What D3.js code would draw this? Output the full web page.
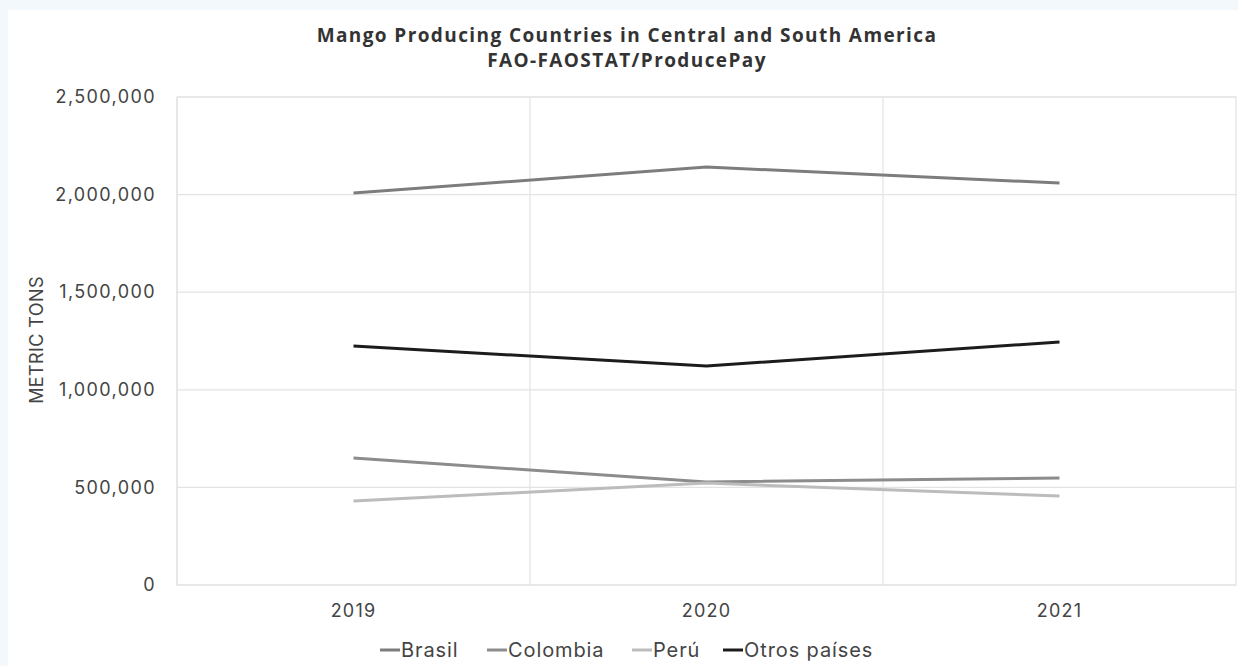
<!DOCTYPE html>
<html>
<head>
<meta charset="utf-8">
<script src="https://cdn.jsdelivr.net/npm/d3@7"></script>
<style>
  body { margin: 0; background: #f3f8fc; }
  svg { display: block; }
</style>
</head>
<body>
<svg id="chart" width="1238" height="666"></svg>
<script>
var years = ["2019", "2020", "2021"];
var brasil = [2008000, 2141000, 2059000];
var colombia = [650000, 528000, 548000];
var peru = [430000, 522000, 456000];
var otros = [1224000, 1122000, 1245000];
var seriesNames = ["Brasil", "Colombia", "Perú", "Otros países"];
var seriesColors = ["#7d7d7d", "#8c8c8c", "#bcbcbc", "#1c1c1c"];
var yTicks = [0, 500000, 1000000, 1500000, 2000000, 2500000];

var allSeries = [brasil, colombia, peru, otros];

var svg = d3.select("#chart");

// white card
svg.append("rect")
    .attr("x", 8).attr("y", 10)
    .attr("width", 1230).attr("height", 656)
    .attr("fill", "#ffffff");

var plotLeft = 177, plotRight = 1236, plotTop = 97, plotBottom = 585;

var x = d3.scaleBand()
    .domain(years)
    .range([plotLeft, plotRight]);

var y = d3.scaleLinear()
    .domain([0, 2500000])
    .range([plotBottom, plotTop]);

// gridlines
svg.append("g")
    .selectAll("line")
    .data(yTicks)
    .enter()
    .append("line")
    .attr("x1", plotLeft).attr("x2", plotRight)
    .attr("y1", function (d) { return y(d); })
    .attr("y2", function (d) { return y(d); })
    .attr("stroke", "#e3e3e3")
    .attr("stroke-width", 1.2);

svg.append("g")
    .selectAll("line")
    .data(years)
    .enter()
    .append("line")
    .attr("x1", function (d) { return x(d); })
    .attr("x2", function (d) { return x(d); })
    .attr("y1", plotTop).attr("y2", plotBottom)
    .attr("stroke", "#e3e3e3")
    .attr("stroke-width", 1.2);

svg.append("rect")
    .attr("x", plotLeft).attr("y", plotTop)
    .attr("width", plotRight - plotLeft).attr("height", plotBottom - plotTop)
    .attr("fill", "none")
    .attr("stroke", "#e3e3e3")
    .attr("stroke-width", 1.2);

// y axis labels
var yAxis = d3.axisLeft(y)
    .tickValues(yTicks)
    .tickSize(0)
    .tickPadding(21)
    .tickFormat(d3.format(","));

svg.append("g")
    .attr("transform", "translate(" + plotLeft + ",0)")
    .call(yAxis)
    .call(function (g) { g.select(".domain").remove(); })
    .selectAll("text")
    .attr("font-family", "Inter, 'Open Sans', sans-serif")
    .attr("font-size", 18)
    .attr("letter-spacing", "1.4px")
    .attr("fill", "#444");

// x axis labels
var xAxis = d3.axisBottom(x).tickSize(0).tickPadding(19);
svg.append("g")
    .attr("transform", "translate(0," + plotBottom + ")")
    .call(xAxis)
    .call(function (g) { g.select(".domain").remove(); })
    .selectAll("text")
    .attr("font-family", "Inter, 'Open Sans', sans-serif")
    .attr("font-size", 18)
    .attr("letter-spacing", "1.2px")
    .attr("fill", "#444");

// lines
var line = d3.line()
    .x(function (d, i) { return x(years[i]) + x.bandwidth() / 2; })
    .y(function (d) { return y(d); });

svg.append("g")
    .selectAll("path")
    .data(allSeries)
    .enter()
    .append("path")
    .attr("d", line)
    .attr("fill", "none")
    .attr("stroke", function (d, i) { return seriesColors[i]; })
    .attr("stroke-width", 3);

// title
svg.append("text")
    .attr("x", 627).attr("y", 42)
    .attr("text-anchor", "middle")
    .attr("font-family", "'Open Sans', sans-serif")
    .attr("font-weight", "bold")
    .attr("font-size", 19)
    .attr("letter-spacing", "1.4px")
    .attr("fill", "#333")
    .text("Mango Producing Countries in Central and South America");
svg.append("text")
    .attr("x", 627).attr("y", 67)
    .attr("text-anchor", "middle")
    .attr("font-family", "'Open Sans', sans-serif")
    .attr("font-weight", "bold")
    .attr("font-size", 19)
    .attr("letter-spacing", "1.4px")
    .attr("fill", "#333")
    .text("FAO-FAOSTAT/ProducePay");

// y title
svg.append("text")
    .attr("transform", "translate(43,340) rotate(-90)")
    .attr("text-anchor", "middle")
    .attr("font-family", "Inter, 'Open Sans', sans-serif")
    .attr("font-size", 18)
    .attr("letter-spacing", "0.4px")
    .attr("fill", "#444")
    .text("METRIC TONS");

// legend
var legendX = [380, 487, 632, 723];
var legend = svg.append("g");
var items = legend.selectAll("g")
    .data(seriesNames)
    .enter()
    .append("g")
    .attr("transform", function (d, i) { return "translate(" + legendX[i] + ",650)"; });
items.append("line")
    .attr("x1", 0).attr("x2", 20)
    .attr("y1", 0).attr("y2", 0)
    .attr("stroke", function (d, i) { return seriesColors[i]; })
    .attr("stroke-width", 3);
items.append("text")
    .attr("x", 21).attr("y", 7)
    .attr("font-family", "Inter, 'Open Sans', sans-serif")
    .attr("font-size", 20)
    .attr("letter-spacing", "0.9px")
    .attr("fill", "#444")
    .text(function (d) { return d; });
</script>
</body>
</html>
